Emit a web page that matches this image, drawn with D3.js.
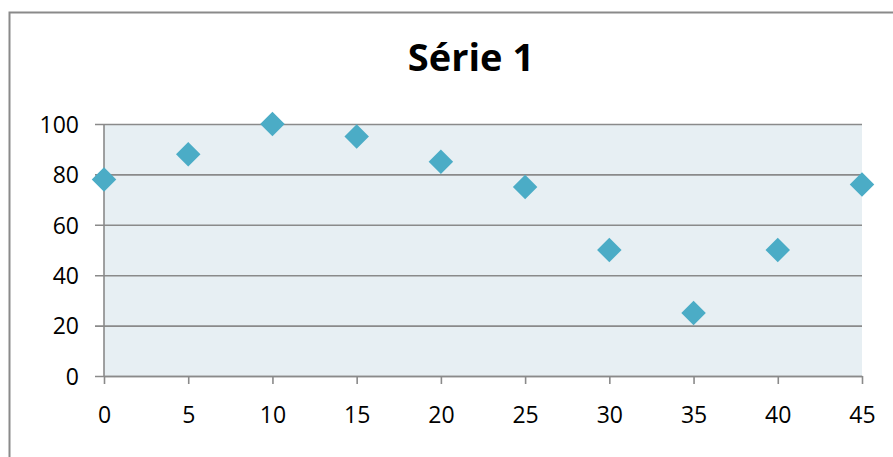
<!DOCTYPE html>
<html>
<head>
<meta charset="utf-8">
<script src="https://cdn.jsdelivr.net/npm/d3@7"></script>
<style>
  body { margin: 0; background: #fff; }
  svg { display: block; font-family: "Open Sans", sans-serif; }
</style>
</head>
<body>
<div id="chart"></div>
<script>
var width = 893;
var height = 457;

// data
var title = "Série 1";
var xValues = [0, 5, 10, 15, 20, 25, 30, 35, 40, 45];
var yValues = [78, 88, 100, 95, 85, 75, 50, 25, 50, 76];
var xTicks = [0, 5, 10, 15, 20, 25, 30, 35, 40, 45];
var yTicks = [0, 20, 40, 60, 80, 100];

var margin = {top: 124, right: 31, bottom: 81, left: 104};

var svg = d3.select("#chart")
  .append("svg")
    .attr("width", width)
    .attr("height", height);

// chart frame (runs off the right and bottom edge)
svg.append("rect")
    .attr("x", 9.5)
    .attr("y", 12.5)
    .attr("width", 900)
    .attr("height", 460)
    .attr("fill", "none")
    .attr("stroke", "#8a8a8a")
    .attr("stroke-width", 2);

var x = d3.scaleLinear()
    .domain([0, 45])
    .range([margin.left, width - margin.right]);

var y = d3.scaleLinear()
    .domain([0, 100])
    .range([height - margin.bottom, margin.top]);

// plot area
svg.append("rect")
    .attr("x", x(0))
    .attr("y", y(100))
    .attr("width", x(45) - x(0))
    .attr("height", y(0) - y(100))
    .attr("fill", "#e7eff3");

// horizontal gridlines + y ticks
var yAxis = svg.append("g")
    .attr("transform", "translate(" + x(0) + ",0)")
    .call(d3.axisLeft(y)
      .tickValues(yTicks)
      .tickSize(-(x(45) - x(0)))
      .tickPadding(0)
      .tickFormat(d3.format("d")));

yAxis.attr("font-family", null).attr("font-size", null);
yAxis.select(".domain").remove();
yAxis.selectAll(".tick line")
    .attr("x1", -9)
    .attr("stroke", "#8a8a8a")
    .attr("stroke-width", 1.6);
yAxis.selectAll(".tick text")
    .attr("x", -25)
    .attr("dy", "0.36em")
    .attr("fill", "#000")
    .style("font-size", "23px");

// left axis line
svg.append("line")
    .attr("x1", x(0))
    .attr("x2", x(0))
    .attr("y1", y(100))
    .attr("y2", y(0))
    .attr("stroke", "#8a8a8a")
    .attr("stroke-width", 1.6);

// x axis
var xAxis = svg.append("g")
    .attr("transform", "translate(0," + y(0) + ")")
    .call(d3.axisBottom(x)
      .tickValues(xTicks)
      .tickSize(8)
      .tickSizeOuter(0)
      .tickPadding(23)
      .tickFormat(d3.format("d")));

xAxis.attr("font-family", null).attr("font-size", null);
xAxis.select(".domain")
    .attr("stroke", "#8a8a8a")
    .attr("stroke-width", 1.6);
xAxis.selectAll(".tick line")
    .attr("stroke", "#8a8a8a")
    .attr("stroke-width", 1.6);
xAxis.selectAll(".tick text")
    .attr("fill", "#000")
    .style("font-size", "23px");

// diamond markers
var diamond = d3.symbol().type(d3.symbolSquare).size(300);

svg.selectAll(".point")
    .data(xValues.map(function(d, i) { return {x: d, y: yValues[i]}; }))
  .enter().append("path")
    .attr("class", "point")
    .attr("d", diamond)
    .attr("transform", function(d) {
      return "translate(" + x(d.x) + "," + y(d.y) + ") rotate(45)";
    })
    .attr("fill", "#4bacc6");

// title
svg.append("text")
    .attr("x", 471)
    .attr("y", 71)
    .attr("text-anchor", "middle")
    .style("font-size", "38px")
    .style("font-weight", "bold")
    .text(title);
</script>
</body>
</html>
